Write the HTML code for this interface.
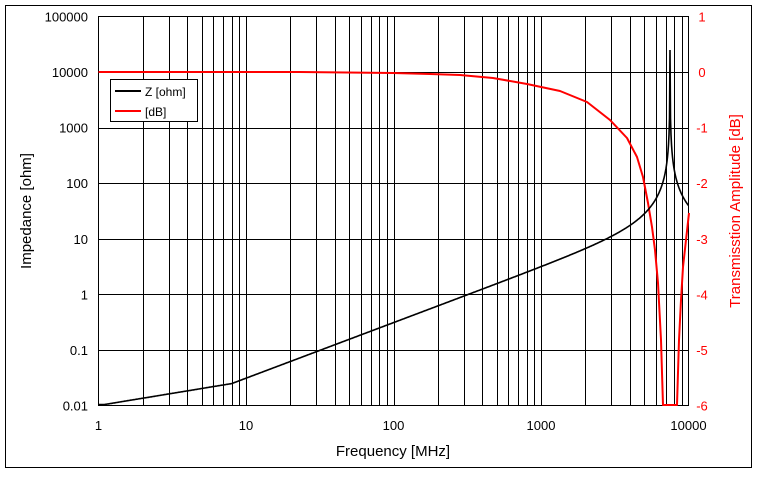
<!DOCTYPE html>
<html><head><meta charset="utf-8"><style>
body{margin:0;background:#fff}
svg text{font-family:"Liberation Sans","DejaVu Sans",sans-serif}
</style></head><body>
<svg id="s" width="757" height="475" xmlns="http://www.w3.org/2000/svg">
<rect x="5.5" y="5.5" width="746" height="462" fill="#fff" stroke="#000" stroke-width="1"/>
<g id="grid" stroke="#000" stroke-width="1"></g>
<rect x="98.5" y="16.5" width="590" height="389" fill="none" stroke="#000"/>
<g id="lbl" font-size="13"></g>
<text x="393" y="456" font-size="15" text-anchor="middle">Frequency [MHz]</text>
<text transform="translate(31,211) rotate(-90)" font-size="15" text-anchor="middle">Impedance [ohm]</text>
<text transform="translate(740,211) rotate(-90)" font-size="15" text-anchor="middle" fill="#f00">Transmisstion Amplitude [dB]</text>
<polyline id="red" fill="none" stroke="#f00" stroke-width="2" stroke-linejoin="round"/>
<polyline id="blk" fill="none" stroke="#000" stroke-width="1.6"/>
<rect x="110.5" y="79.5" width="87" height="42" fill="#fff" stroke="#000"/>
<line x1="115" y1="91" x2="141" y2="91" stroke="#000" stroke-width="2"/>
<line x1="115" y1="111" x2="141" y2="111" stroke="#f00" stroke-width="2"/>
<text x="145" y="96" font-size="12">Z [ohm]</text>
<text x="145" y="116" font-size="12">[dB]</text>
</svg>
<script>
var NS="http://www.w3.org/2000/svg";
function X(f){return 98.5+147.5*Math.log10(f);}
var g=document.getElementById('grid'),l=document.getElementById('lbl');
function el(p,t,a,txt){var e=document.createElementNS(NS,t);for(var k in a)e.setAttribute(k,a[k]);if(txt!=null)e.textContent=txt;p.appendChild(e);}
for(var d=0;d<4;d++)for(var m=1;m<10;m++){var x=Math.round(X(m*Math.pow(10,d)))+.5;if(m>1||d>0)el(g,'line',{x1:x,y1:16.5,x2:x,y2:405.5});}
for(var i=1;i<7;i++){var y=Math.round(16.5+i*389/7)+.5;el(g,'line',{x1:98.5,y1:y,x2:688.5,y2:y});}
var lv=["100000","10000","1000","100","10","1","0.1","0.01"];
for(var i=0;i<8;i++){var y=16.5+i*389/7;el(l,'text',{x:88,y:y+5,'text-anchor':'end'},lv[i]);el(l,'text',{x:702,y:y+5,fill:'#f00','text-anchor':'middle'},String(1-i));}
var xl=["1","10","100","1000","10000"];
for(var i=0;i<5;i++)el(l,'text',{x:X(Math.pow(10,i)),y:430,'text-anchor':'middle'},xl[i]);
var f0=Math.pow(10,(670-98.5)/147.5);
var pts=[];for(var x=98.5;x<=688.5;x+=0.5){var f=Math.pow(10,(x-98.5)/147.5);var z0=Math.max(0.01*Math.pow(f,0.437),0.0031*f);var z=z0/Math.abs(1-Math.pow(f/f0,2));if(z>25000)z=25000;var y=405.5-55.57*(Math.log10(z)+2);if(y>404.5)y=404.5;if(Math.abs(x-670)<0.01)y=50;pts.push(x.toFixed(1)+','+y.toFixed(1));}
document.getElementById('blk').setAttribute('points',pts.join(' '));
document.getElementById('red').setAttribute('points',"98.5,72 300,72 393,73 430,74 460,75 493,78 527,84 560,91 587,102 610,120 627,138 637,157 643,177 648,203 652,227 655,250 658,283 661,340 663,405 677,405 679,340 681,300 683,267 686,240 689,213");
</script>
</body></html>
